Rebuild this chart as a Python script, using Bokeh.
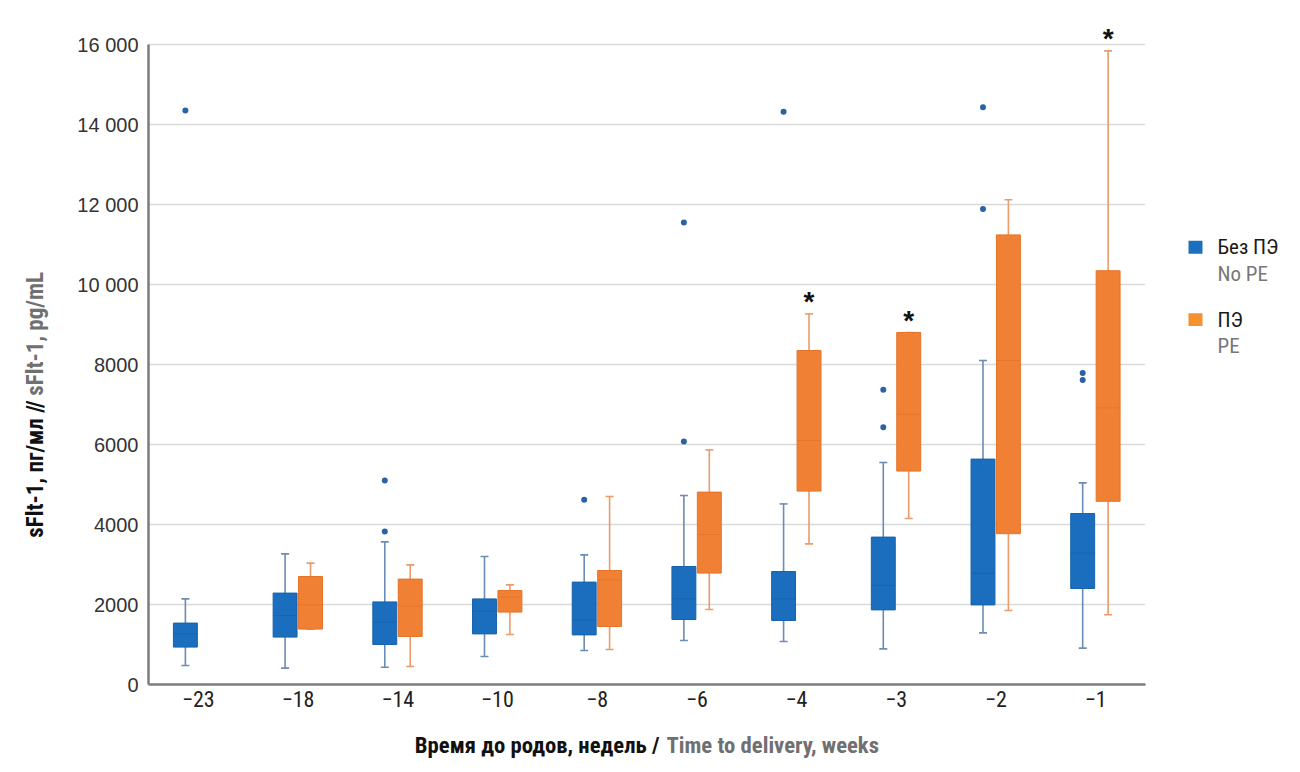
import numpy as np
from bokeh.plotting import figure
from bokeh.layouts import row, column
from bokeh.models import ColumnDataSource, Range1d, FixedTicker
from bokeh.core.properties import value
from bokeh.embed import file_html
from bokeh.resources import INLINE

# ---------------- data ----------------
categories = ["\u221223", "\u221218", "\u221214", "\u221210", "\u22128",
              "\u22126", "\u22124", "\u22123", "\u22122", "\u22121"]

# No PE (blue)
nope_low  = [475, 410, 430, 700, 850, 1100, 1075, 890, 1290, 910]
nope_q1   = [935, 1185, 1000, 1265, 1240, 1625, 1600, 1865, 1990, 2400]
nope_med  = [1270, 1725, 1560, 1835, 1615, 2140, 2140, 2480, 2780, 3285]
nope_q3   = [1535, 2285, 2065, 2140, 2560, 2950, 2825, 3685, 5635, 4275]
nope_high = [2140, 3265, 3565, 3200, 3240, 4725, 4515, 5550, 8100, 5040]
nope_out_cat = [0, 2, 2, 4, 5, 5, 6, 7, 7, 8, 8, 9, 9]
nope_out_val = [14350, 5100, 3825, 4620, 6075, 11550, 14320, 7370, 6430, 14430, 11890, 7790, 7615]

# PE (orange); None = no data
pe_low  = [None, 1380, 450, 1250, 875, 1875, 3515, 4150, 1850, 1745]
pe_q1   = [None, 1385, 1200, 1810, 1450, 2785, 4835, 5335, 3770, 4580]
pe_med  = [None, 1990, 1960, 2185, 2620, 3750, 6100, 6755, 8100, 6915]
pe_q3   = [None, 2700, 2635, 2350, 2850, 4810, 8350, 8800, 11240, 10345]
pe_high = [None, 3035, 2990, 2490, 4700, 5865, 9265, 8800, 12120, 15840]
pe_significant = [6, 7, 9]

y_ticks = [0, 2000, 4000, 6000, 8000, 10000, 12000, 14000, 16000]
y_tick_labels = ["0", "2000", "4000", "6000", "8000", "10 000", "12 000", "14 000", "16 000"]

x_title_ru, x_title_en = "Время до родов, недель /", "Time to delivery, weeks"
y_title_ru, y_title_en = "sFlt-1, пг/мл //", "sFlt-1, pg/mL"
legend_ru = ["Без ПЭ", "ПЭ"]
legend_en = ["No PE", "PE"]

# ---------------- style ----------------
BLUE, BLUE_EDGE, BLUE_WHISK = "#1a6ebd", "#1862ab", "#6b8cb6"
ORANGE, ORANGE_EDGE, ORANGE_WHISK = "#f08034", "#e5732a", "#eb9a6a"
LEG_COLORS = ["#1b70be", "#f59131"]
NARROW = "Roboto Condensed"
SANS = "Liberation Sans"
OFF_B, OFF_O, BOX_W, CAP_W = -0.13, 0.125, 0.24, 0.08

# ---------------- main plot ----------------
p = figure(width=1090, height=720, x_range=Range1d(-0.5, 9.5), y_range=Range1d(0, 16500),
           output_backend="svg", toolbar_location=None,
           min_border_left=88, min_border_right=5, min_border_top=24, min_border_bottom=36)
p.outline_line_color = None
p.xgrid.visible = False
p.ygrid.grid_line_color = "#d9d9d9"
p.ygrid.grid_line_width = 1.5
p.ygrid.ticker = FixedTicker(ticks=y_ticks[1:])

for ax in (p.xaxis, p.yaxis):
    ax.axis_line_color = "#7c7c7c"
    ax.axis_line_width = 2.5
    ax.major_tick_line_color = None
    ax.minor_tick_line_color = None
    ax.major_tick_out = 0
    ax.major_tick_in = 0

p.yaxis.bounds = (0, 16000)
p.yaxis.ticker = FixedTicker(ticks=y_ticks)
p.yaxis.major_label_overrides = {t: l for t, l in zip(y_ticks, y_tick_labels)}
p.yaxis.major_label_text_font = SANS
p.yaxis.major_label_text_font_size = "20px"
p.yaxis.major_label_text_color = "#333333"
p.yaxis.major_label_standoff = 10

p.xaxis.ticker = FixedTicker(ticks=list(range(len(categories))))
p.xaxis.major_label_overrides = {i: c for i, c in enumerate(categories)}
p.xaxis.major_label_text_font = NARROW
p.xaxis.major_label_text_font_size = "22px"
p.xaxis.major_label_text_color = "#222222"
p.xaxis.major_label_standoff = 6


def draw_group(low, q1, med, q3, high, offset, fill, edge, whisk):
    idx = [i for i in range(len(categories)) if q1[i] is not None]
    x = np.array(idx, dtype=float) + offset
    src = ColumnDataSource(dict(
        x=x, x0=x - CAP_W / 2, x1=x + CAP_W / 2,
        xm0=x - BOX_W / 2, xm1=x + BOX_W / 2,
        low=[low[i] for i in idx], q1=[q1[i] for i in idx], med=[med[i] for i in idx],
        q3=[q3[i] for i in idx], high=[high[i] for i in idx]))
    p.segment(x0="x", y0="q3", x1="x", y1="high", source=src, line_color=whisk, line_width=1.6)
    p.segment(x0="x", y0="q1", x1="x", y1="low", source=src, line_color=whisk, line_width=1.6)
    p.segment(x0="x0", y0="high", x1="x1", y1="high", source=src, line_color=whisk, line_width=1.6)
    p.segment(x0="x0", y0="low", x1="x1", y1="low", source=src, line_color=whisk, line_width=1.6)
    p.vbar(x="x", width=BOX_W, bottom="q1", top="q3", source=src,
           fill_color=fill, line_color=edge, line_width=1)
    p.segment(x0="xm0", y0="med", x1="xm1", y1="med", source=src, line_color=edge,
              line_width=1, line_alpha=0.9)


draw_group(nope_low, nope_q1, nope_med, nope_q3, nope_high, OFF_B, BLUE, BLUE_EDGE, BLUE_WHISK)
draw_group(pe_low, pe_q1, pe_med, pe_q3, pe_high, OFF_O, ORANGE, ORANGE_EDGE, ORANGE_WHISK)

out_src = ColumnDataSource(dict(x=np.array(nope_out_cat, dtype=float) + OFF_B, y=nope_out_val))
p.scatter(x="x", y="y", source=out_src, size=6, fill_color="#2b62a6", line_color=None)

sig_src = ColumnDataSource(dict(x=[i + OFF_O for i in pe_significant],
                                y=[pe_high[i] for i in pe_significant],
                                t=["*"] * len(pe_significant)))
p.text(x="x", y="y", text="t", source=sig_src, text_font=value(SANS),
       text_font_style="bold", text_font_size="28px", text_color="#111111",
       text_align="center", text_baseline="alphabetic", y_offset=-12)


def blank(width, height, xr, yr):
    f = figure(width=width, height=height, x_range=Range1d(*xr), y_range=Range1d(*yr),
               output_backend="svg", toolbar_location=None, min_border=0,
               min_border_left=0, min_border_right=0, min_border_top=0, min_border_bottom=0)
    f.axis.visible = False
    f.grid.visible = False
    f.outline_line_color = None
    return f


# y-axis title (page-like coordinates: y grows downward)
fy = blank(60, 720, (0, 60), (720, 0))
fy.text(x=[35], y=[410], text=[y_title_ru], angle=np.pi / 2, text_font=value(NARROW),
        text_font_style="bold", text_font_size="23px", text_color="#111111",
        text_align="right", text_baseline="middle")
fy.text(x=[35], y=[405], text=[y_title_en], angle=np.pi / 2, text_font=value(NARROW),
        text_font_style="bold", text_font_size="23px", text_color="#707070",
        text_align="left", text_baseline="middle")

# legend
fl = blank(140, 720, (1150, 1290), (720, 0))
leg_y = [243, 322]
fl.quad(left=[1188, 1188], right=[1202, 1202], top=[y - 7 for y in leg_y],
        bottom=[y + 7 for y in leg_y], fill_color=LEG_COLORS, line_color=None)
fl.text(x=[1217, 1217], y=leg_y, text=legend_ru, text_font=value(NARROW),
        text_font_size="21px", text_color="#1a1a1a", text_baseline="middle")
fl.text(x=[1217, 1217], y=[y + 29 for y in leg_y], text=legend_en, text_font=value(NARROW),
        text_font_size="21px", text_color="#777777", text_baseline="middle")

# x-axis title
fx = blank(1290, 40, (0, 1290), (760, 720))
fx.text(x=[659], y=[745], text=[x_title_ru], text_font=value(NARROW), text_font_style="bold",
        text_font_size="22.7px", text_color="#111111", text_align="right", text_baseline="middle")
fx.text(x=[666], y=[745], text=[x_title_en], text_font=value(NARROW), text_font_style="bold",
        text_font_size="22.7px", text_color="#707070", text_align="left", text_baseline="middle")

layout = column(row(fy, p, fl), fx)
open("out.html", "w").write(file_html(layout, INLINE))
